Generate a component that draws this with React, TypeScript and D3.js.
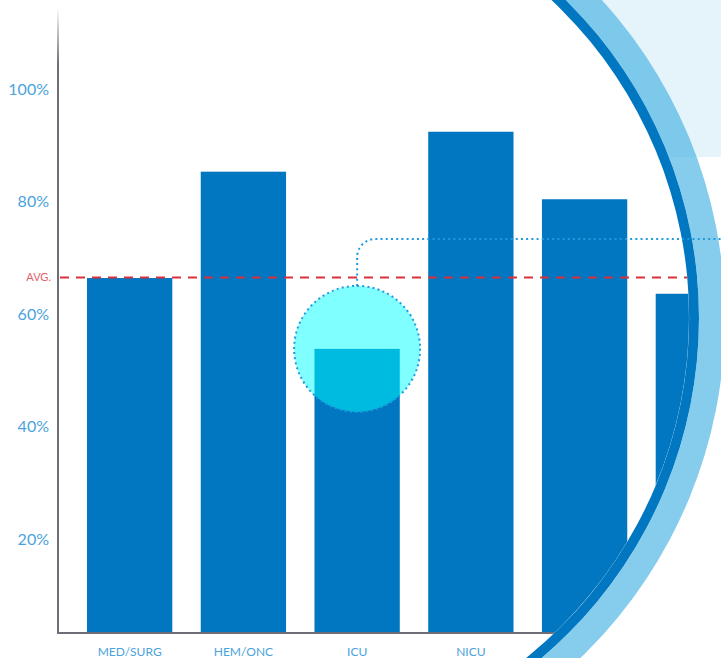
import React from "react";
import * as d3 from "d3";

const categories = ["MED/SURG", "HEM/ONC", "ICU", "NICU", "PICU", "L&D"];
const values = [66.4, 85.3, 53.8, 92.4, 80.4, 63.6];
const yTicks = [20, 40, 60, 80, 100];
const AVG = 66.5;
const highlighted = "ICU";

const W = 721;
const H = 658;
const AXIS_X = 58;
const AXIS_Y = 633;
const RING_CX = 253;
const RING_CY = 318;
const R_IN = 436;
const R_DARK = 446;
const R_OUT = 472;
const CALLOUT_Y = 239;

const BLUE = "#0077C0";
const LABEL_BLUE = "#4BA3DC";

export default function App() {
  const x = d3
    .scaleBand<string>()
    .domain(categories)
    .range([AXIS_X, 770])
    .paddingInner(0.25)
    .paddingOuter(0.255);
  const y = d3.scaleLinear().domain([0, 100]).range([651.5, 89]);

  const arcDark = d3.arc()({ innerRadius: R_IN, outerRadius: R_DARK, startAngle: 0, endAngle: 2 * Math.PI } as any) as string;
  const arcLight = d3.arc()({ innerRadius: R_DARK, outerRadius: R_OUT, startAngle: 0, endAngle: 2 * Math.PI } as any) as string;

  const hiIdx = categories.indexOf(highlighted);
  const hcx = (x(highlighted) as number) + x.bandwidth() / 2;
  const hcy = y(values[hiIdx]);
  const hr = 63;

  const cr = 18;
  const p = d3.path();
  p.moveTo(hcx, hcy - hr);
  p.lineTo(hcx, CALLOUT_Y + cr);
  p.arcTo(hcx, CALLOUT_Y, hcx + cr, CALLOUT_Y, cr);
  p.lineTo(W, CALLOUT_Y);

  const font = "Lato, 'Open Sans', sans-serif";

  return (
    <>
      <style>{`body{margin:0;} svg{display:block;}`}</style>
      <svg width={W} height={H} viewBox={`0 0 ${W} ${H}`}>
        <defs>
          <clipPath id="inner">
            <circle cx={RING_CX} cy={RING_CY} r={R_IN} />
          </clipPath>
          <linearGradient id="axisGrad" x1="0" y1="0" x2="0" y2="1" gradientUnits="objectBoundingBox">
            <stop offset="0" stopColor="#6E6E78" stopOpacity="0" />
            <stop offset="0.09" stopColor="#6E6E78" stopOpacity="1" />
            <stop offset="1" stopColor="#6E6E78" stopOpacity="1" />
          </linearGradient>
        </defs>
        <rect x={0} y={0} width={W} height={H} fill="#fff" />
        <rect x={560} y={0} width={W - 560} height={157} fill="#E5F3FA" />
        <circle cx={RING_CX} cy={RING_CY} r={R_IN} fill="#fff" />

        <g clipPath="url(#inner)">
          {categories.map((c, i) => (
            <rect
              key={c}
              x={x(c)}
              y={y(values[i])}
              width={x.bandwidth()}
              height={AXIS_Y - y(values[i])}
              fill={BLUE}
            />
          ))}
          <rect x={AXIS_X - 1} y={8} width={2} height={AXIS_Y - 8} fill="url(#axisGrad)" />
          <line x1={AXIS_X - 1} x2={W} y1={AXIS_Y} y2={AXIS_Y} stroke="#6E6E78" strokeWidth={2} />
          {yTicks.map((t) => (
            <text
              key={t}
              x={49}
              y={y(t)}
              dy="0.36em"
              textAnchor="end"
              fill={LABEL_BLUE}
              fontFamily={font}
              fontSize={16}
            >
              {t}%
            </text>
          ))}
          {categories.map((c) => (
            <text
              key={c}
              x={(x(c) as number) + x.bandwidth() / 2}
              y={652}
              dy="0.36em"
              textAnchor="middle"
              fill={LABEL_BLUE}
              fontFamily={font}
              fontSize={12}
            >
              {c}
            </text>
          ))}
          <line
            x1={AXIS_X + 2}
            x2={W}
            y1={y(AVG)}
            y2={y(AVG)}
            stroke="#D8313A"
            strokeWidth={2}
            strokeDasharray="9 7"
          />
          <text
            x={51}
            y={y(AVG)}
            dy="0.36em"
            textAnchor="end"
            fill="#E4606A"
            fontFamily={font}
            fontSize={11}
          >
            AVG.
          </text>
          <circle cx={hcx} cy={hcy} r={hr} fill="#00FFFF" fillOpacity={0.5} />
        </g>

        <path d={arcDark} transform={`translate(${RING_CX},${RING_CY})`} fill={BLUE} />
        <path d={arcLight} transform={`translate(${RING_CX},${RING_CY})`} fill="#3BAEE2" fillOpacity={0.62} />

        <circle
          cx={hcx}
          cy={hcy}
          r={hr}
          fill="none"
          stroke="#1E9BDF"
          strokeWidth={2}
          strokeDasharray="2 3.2"
        />
        <path
          d={p.toString()}
          fill="none"
          stroke="#1E9BDF"
          strokeWidth={2}
          strokeDasharray="2 3.2"
        />
      </svg>
    </>
  );
}
